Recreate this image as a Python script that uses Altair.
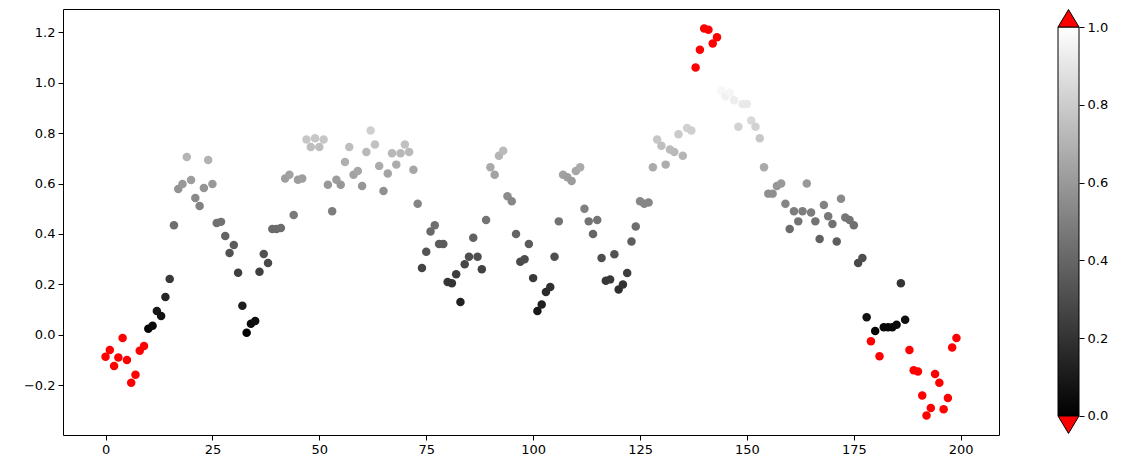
import altair as alt
import pandas as pd

# values, index 0..199
values = [
    -0.087, -0.06, -0.123, -0.09, -0.012, -0.10, -0.19, -0.158, -0.063, -0.044,
    0.024, 0.036, 0.095, 0.075, 0.15, 0.222, 0.435, 0.578, 0.598, 0.705,
    0.614, 0.543, 0.511, 0.582, 0.693, 0.598, 0.444, 0.448, 0.392, 0.325,
    0.356, 0.246, 0.115, 0.008, 0.044, 0.055, 0.25, 0.321, 0.285, 0.42,
    0.42, 0.424, 0.62, 0.635, 0.475, 0.615, 0.62, 0.775, 0.745, 0.78,
    0.745, 0.775, 0.595, 0.49, 0.615, 0.595, 0.685, 0.745, 0.635, 0.65,
    0.59, 0.725, 0.81, 0.755, 0.67, 0.57, 0.64, 0.72, 0.675, 0.72,
    0.755, 0.725, 0.655, 0.52, 0.265, 0.33, 0.41, 0.435, 0.36, 0.36,
    0.21, 0.205, 0.24, 0.13, 0.28, 0.31, 0.385, 0.31, 0.26, 0.455,
    0.665, 0.635, 0.71, 0.73, 0.55, 0.53, 0.40, 0.29, 0.30, 0.36,
    0.225, 0.095, 0.12, 0.17, 0.19, 0.31, 0.45, 0.635, 0.625, 0.61,
    0.65, 0.665, 0.50, 0.45, 0.40, 0.455, 0.305, 0.215, 0.22, 0.32,
    0.18, 0.20, 0.245, 0.37, 0.43, 0.53, 0.52, 0.525, 0.665, 0.775,
    0.75, 0.675, 0.735, 0.725, 0.795, 0.71, 0.82, 0.81, 1.06, 1.13,
    1.215, 1.21, 1.155, 1.18, 0.97, 0.945, 0.96, 0.93, 0.825, 0.915,
    0.915, 0.85, 0.825, 0.78, 0.665, 0.56, 0.56, 0.59, 0.60, 0.52,
    0.42, 0.49, 0.45, 0.49, 0.60, 0.485, 0.45, 0.38, 0.515, 0.47,
    0.44, 0.37, 0.54, 0.465, 0.455, 0.435, 0.285, 0.305, 0.07, -0.025,
    0.015, -0.085, 0.03, 0.03, 0.03, 0.04, 0.205, 0.06, -0.06, -0.14,
    -0.145, -0.24, -0.32, -0.29, -0.155, -0.19, -0.295, -0.25, -0.05, -0.012,
]
index = list(range(len(values)))
x_ticks = [0, 25, 50, 75, 100, 125, 150, 175, 200]
y_ticks = [-0.2, 0.0, 0.2, 0.4, 0.6, 0.8, 1.0, 1.2]
cbar_ticks = [0.0, 0.2, 0.4, 0.6, 0.8, 1.0]

FONT = "DejaVu Sans"

df = pd.DataFrame({"i": index, "v": values})

gray_scale = alt.Scale(domain=[0, 1], range=["#000000", "#ffffff"], interpolate="rgb")

scatter = alt.Chart(df).mark_circle(size=72, opacity=1).encode(
    x=alt.X("i:Q", scale=alt.Scale(domain=[-9.95, 208.95], nice=False, zero=False),
            axis=alt.Axis(values=x_ticks, title=None, grid=False, domain=False,
                          tickSize=5, tickColor="black", labelPadding=3,
                          labelFontSize=13, labelFont=FONT, labelColor="black")),
    y=alt.Y("v:Q", scale=alt.Scale(domain=[-0.397, 1.292], nice=False, zero=False),
            axis=alt.Axis(values=y_ticks, format=".1f", title=None, grid=False, domain=False,
                          tickSize=5, tickColor="black", labelPadding=3,
                          labelFontSize=13, labelFont=FONT, labelColor="black",
                          minExtent=54, maxExtent=54)),
    color=alt.when("datum.v < 0 || datum.v > 1").then(alt.value("red")).otherwise(
        alt.Color("v:Q", scale=gray_scale, legend=None)),
).properties(width=936, height=426)

# colorbar
ext = 0.0463
cb_y = alt.Scale(domain=[-ext, 1 + ext], nice=False, zero=False)
cb_x = alt.Scale(domain=[0, 1], nice=False, zero=False)
cb_axis = alt.Axis(orient="right", values=cbar_ticks, format=".1f", title=None,
                   grid=False, domain=False, tickSize=5, tickColor="black",
                   labelPadding=3, labelFontSize=13, labelFont=FONT,
                   labelColor="black")

one = pd.DataFrame({"a": [0]})
grad = alt.LinearGradient(
    gradient="linear",
    stops=[alt.GradientStop(color="black", offset=0), alt.GradientStop(color="white", offset=1)],
    x1=0, x2=0, y1=1, y2=0,
)
bar = alt.Chart(one).mark_rect(fill=grad, stroke="black", strokeWidth=1).encode(
    x=alt.X(datum=0, scale=cb_x, axis=None),
    x2=alt.X2(datum=1),
    y=alt.Y(datum=0, scale=cb_y, axis=cb_axis),
    y2=alt.Y2(datum=1),
)

tri_top = pd.DataFrame({"tx": [0, 0.5, 1], "ty": [1, 1 + ext * 0.97, 1]})
tri_bot = pd.DataFrame({"tx": [0, 0.5, 1], "ty": [0, -ext * 0.97, 0]})

top = alt.Chart(tri_top).mark_area(color="red", stroke="black", strokeWidth=1,
                                   strokeJoin="bevel").encode(
    x=alt.X("tx:Q", scale=cb_x, axis=None),
    y=alt.Y("ty:Q", scale=cb_y, axis=cb_axis),
    y2=alt.Y2(datum=1),
)
bot = alt.Chart(tri_bot).mark_area(color="red", stroke="black", strokeWidth=1,
                                   strokeJoin="bevel").encode(
    x=alt.X("tx:Q", scale=cb_x, axis=None),
    y=alt.Y("ty:Q", scale=cb_y, axis=cb_axis),
    y2=alt.Y2(datum=0),
)

cbar = alt.layer(bar, top, bot).properties(
    width=21, height=425, view=alt.ViewBackground(stroke=None)
)

chart = alt.hconcat(scatter, cbar, spacing=59, bounds="flush").properties(
    padding={"left": 0, "top": 0, "right": 5, "bottom": 0}
).configure_view(stroke="black", strokeWidth=1)

chart.save("out.html", embed_options={"renderer": "svg", "actions": False})
